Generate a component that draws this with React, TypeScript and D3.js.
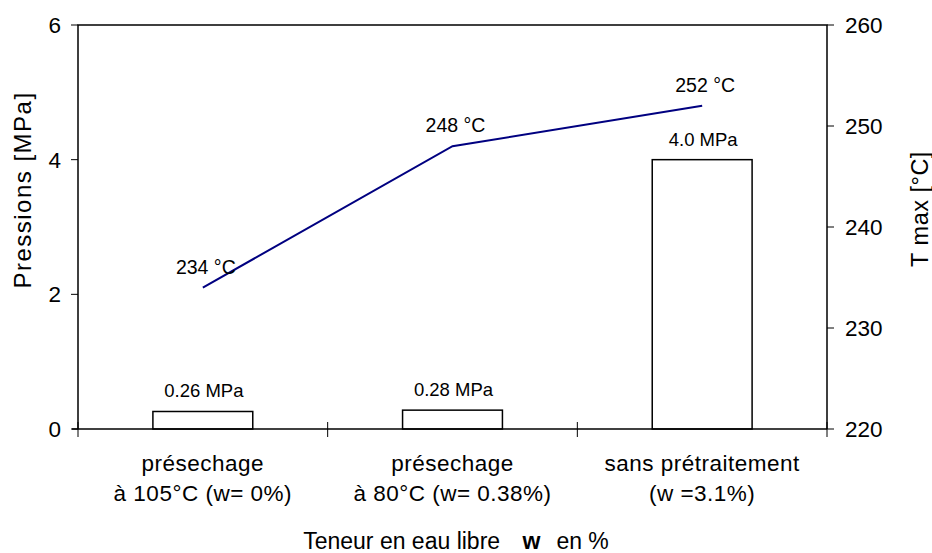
import React from "react";
import * as d3 from "d3";

const categoriesLine1 = ["présechage", "présechage", "sans prétraitement"];
const categoriesLine2 = ["à 105°C (w= 0%)", "à 80°C (w= 0.38%)", "(w =3.1%)"];
const pressures = [0.26, 0.28, 4.0];
const pressureLabels = ["0.26 MPa", "0.28 MPa", "4.0 MPa"];
const temperatures = [234, 248, 252];
const temperatureLabels = ["234 °C", "248 °C", "252 °C"];
const leftTicks = [0, 2, 4, 6];
const rightTicks = [220, 230, 240, 250, 260];

const W = 932;
const H = 553;
const FONT = "'Liberation Sans', Arial, Helvetica, sans-serif";

export default function App() {
  const left = 78, right = 827, top = 25, bottom = 429;
  const idx = categoriesLine1.map((_, i) => String(i));
  const x = d3.scaleBand().domain(idx).range([left, right]).paddingInner(0).paddingOuter(0);
  const yL = d3.scaleLinear().domain([0, 6]).range([bottom, top]);
  const yR = d3.scaleLinear().domain([220, 260]).range([bottom, top]);
  const bw = x.bandwidth() * 0.4;
  const cx = (i: number) => (x(String(i)) as number) + x.bandwidth() / 2;

  const line = d3
    .line<number>()
    .x((_, i) => cx(i))
    .y((d) => yR(d));

  const boundaries = [0, 1, 2].map((i) => x(String(i)) as number).concat([right]);

  return (
    <div style={{ position: "fixed", left: 0, top: 0, width: W, height: H, background: "#fff" }}>
      <svg width={W} height={H} style={{ display: "block" }} fontFamily={FONT}>
        <rect x={0} y={0} width={W} height={H} fill="#fff" />
        {/* bars */}
        {pressures.map((p, i) => (
          <rect
            key={"b" + i}
            x={cx(i) - bw / 2}
            y={yL(p)}
            width={bw}
            height={yL(0) - yL(p)}
            fill="#fff"
            stroke="#000"
            strokeWidth={1.5}
          />
        ))}
        {/* frame */}
        <path
          d={`M${left},${bottom} V${top} H${right} V${bottom}`}
          fill="none"
          stroke="#000"
          strokeWidth={1.5}
        />
        {/* x axis */}
        <line x1={left - 6} x2={right} y1={bottom} y2={bottom} stroke="#000" strokeWidth={1.5} />
        {boundaries.map((b, i) => (
          <line key={"xt" + i} x1={b} x2={b} y1={bottom - 7} y2={bottom + 8} stroke="#000" strokeWidth={1} />
        ))}
        {/* left ticks */}
        {leftTicks.map((t) => (
          <g key={"lt" + t}>
            <line x1={left - 7} x2={left} y1={yL(t)} y2={yL(t)} stroke="#000" strokeWidth={1} />
            <text x={61} y={yL(t)} dy="0.36em" textAnchor="end" fontSize={22.5} fill="#000">
              {t}
            </text>
          </g>
        ))}
        {/* right ticks */}
        {rightTicks.map((t) => (
          <g key={"rt" + t}>
            <line x1={right} x2={right + 7} y1={yR(t)} y2={yR(t)} stroke="#000" strokeWidth={1} />
            <text x={845} y={yR(t)} dy="0.36em" textAnchor="start" fontSize={22.5} fill="#000">
              {t}
            </text>
          </g>
        ))}
        {/* line */}
        <path d={line(temperatures) || ""} fill="none" stroke="#000080" strokeWidth={2} />
        {/* labels */}
        {temperatures.map((t, i) => (
          <text key={"tl" + i} x={cx(i) + 3} y={yR(t) - 14} textAnchor="middle" fontSize={19.5} fill="#000">
            {temperatureLabels[i]}
          </text>
        ))}
        {pressures.map((p, i) => (
          <text key={"pl" + i} x={cx(i) + 1} y={yL(p) - 14} textAnchor="middle" fontSize={18.5} fill="#000">
            {pressureLabels[i]}
          </text>
        ))}
        {/* category labels */}
        {categoriesLine1.map((c, i) => (
          <g key={"c" + i}>
            <text x={cx(i)} y={471} textAnchor="middle" fontSize={22.5} letterSpacing={0.5} fill="#000">
              {c}
            </text>
            <text x={cx(i)} y={501} textAnchor="middle" fontSize={22.5} letterSpacing={0.5} fill="#000">
              {categoriesLine2[i]}
            </text>
          </g>
        ))}
        {/* axis titles */}
        <text x={456} y={549} textAnchor="middle" fontSize={23} fill="#000">
          <tspan>Teneur en eau libre </tspan>
          <tspan dx={16} fontWeight="bold">w</tspan>
          <tspan dx={16}>en %</tspan>
        </text>
        <text
          transform={`translate(31,190) rotate(-90)`}
          textAnchor="middle"
          fontSize={24}
          letterSpacing={1.5}
          fill="#000"
        >
          Pressions [MPa]
        </text>
        <text
          transform={`translate(928,209) rotate(-90)`}
          textAnchor="middle"
          fontSize={23.5}
          letterSpacing={0.5}
          fill="#000"
        >
          T max [°C]
        </text>
      </svg>
    </div>
  );
}
